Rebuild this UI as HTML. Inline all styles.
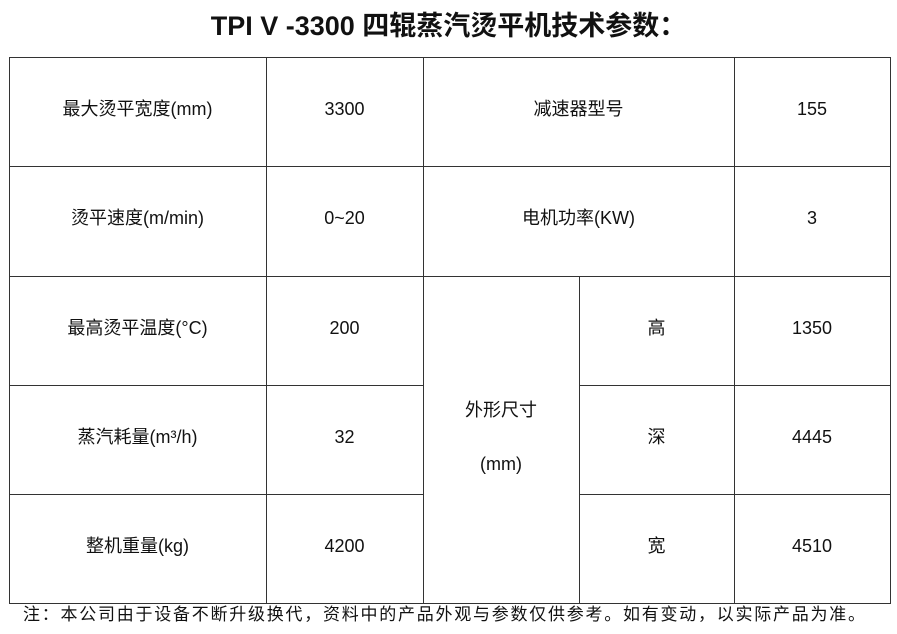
<!DOCTYPE html>
<html><head><meta charset="utf-8"><style>
body{margin:0;width:897px;height:634px;background:#fff;position:relative;overflow:hidden;font-family:"Liberation Sans","Noto Sans CJK SC",sans-serif;color:#111}
.t{position:absolute;left:0;width:897px;top:9px;text-align:center;font-size:27px;font-weight:bold;line-height:34px}
.h{position:absolute;height:1px;background:#333}
.v{position:absolute;width:1px;background:#333}
.c{position:absolute;display:flex;align-items:center;justify-content:center;font-size:18px;text-align:center;line-height:28px;margin-top:-3px}
.f{position:absolute;left:23px;top:603px;font-size:17px;line-height:24px;white-space:nowrap;letter-spacing:1.75px}
</style></head><body>
<div class="t">TPI V -3300 四辊蒸汽烫平机技术参数：</div>
<div class="h" style="left:9px;width:882px;top:57px"></div>
<div class="h" style="left:9px;width:882px;top:166px"></div>
<div class="h" style="left:9px;width:882px;top:276px"></div>
<div class="h" style="left:9px;width:414px;top:385px"></div>
<div class="h" style="left:579px;width:312px;top:385px"></div>
<div class="h" style="left:9px;width:414px;top:494px"></div>
<div class="h" style="left:579px;width:312px;top:494px"></div>
<div class="h" style="left:9px;width:882px;top:603px"></div>
<div class="v" style="left:9px;top:57px;height:547px"></div>
<div class="v" style="left:266px;top:57px;height:547px"></div>
<div class="v" style="left:423px;top:57px;height:547px"></div>
<div class="v" style="left:579px;top:276px;height:328px"></div>
<div class="v" style="left:734px;top:57px;height:547px"></div>
<div class="v" style="left:890px;top:57px;height:547px"></div>

<div class="c" style="left:9px;width:257px;top:57px;height:109px">最大烫平宽度(mm)</div>
<div class="c" style="left:266px;width:157px;top:57px;height:109px">3300</div>
<div class="c" style="left:423px;width:311px;top:57px;height:109px">减速器型号</div>
<div class="c" style="left:734px;width:156px;top:57px;height:109px">155</div>

<div class="c" style="left:9px;width:257px;top:166px;height:110px">烫平速度(m/min)</div>
<div class="c" style="left:266px;width:157px;top:166px;height:110px">0~20</div>
<div class="c" style="left:423px;width:311px;top:166px;height:110px">电机功率(KW)</div>
<div class="c" style="left:734px;width:156px;top:166px;height:110px">3</div>

<div class="c" style="left:9px;width:257px;top:276px;height:109px">最高烫平温度(°C)</div>
<div class="c" style="left:266px;width:157px;top:276px;height:109px">200</div>
<div class="c" style="left:579px;width:155px;top:276px;height:109px">高</div>
<div class="c" style="left:734px;width:156px;top:276px;height:109px">1350</div>

<div class="c" style="left:9px;width:257px;top:385px;height:109px">蒸汽耗量(m³/h)</div>
<div class="c" style="left:266px;width:157px;top:385px;height:109px">32</div>
<div class="c" style="left:423px;width:156px;top:276px;height:328px;line-height:54px">外形尺寸<br>(mm)</div>
<div class="c" style="left:579px;width:155px;top:385px;height:109px">深</div>
<div class="c" style="left:734px;width:156px;top:385px;height:109px">4445</div>

<div class="c" style="left:9px;width:257px;top:494px;height:109px">整机重量(kg)</div>
<div class="c" style="left:266px;width:157px;top:494px;height:109px">4200</div>
<div class="c" style="left:579px;width:155px;top:494px;height:109px">宽</div>
<div class="c" style="left:734px;width:156px;top:494px;height:109px">4510</div>

<div class="f">注：本公司由于设备不断升级换代，资料中的产品外观与参数仅供参考。如有变动，以实际产品为准。</div>
</body></html>
